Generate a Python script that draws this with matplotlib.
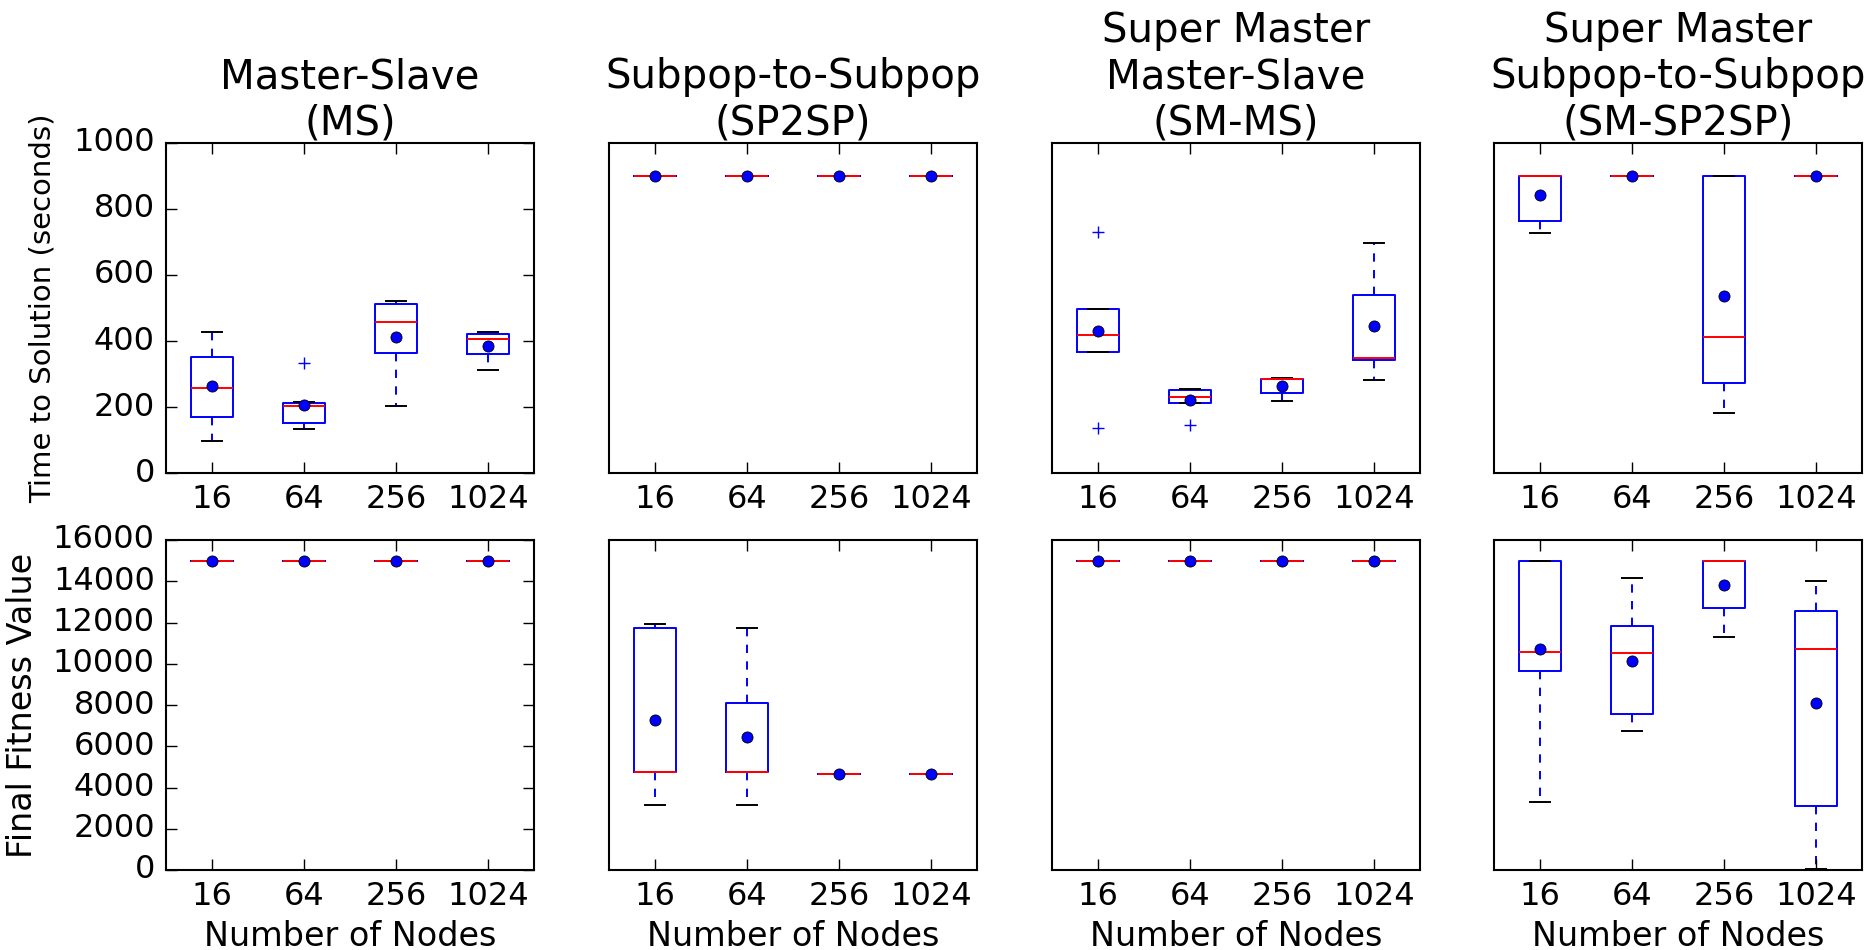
"""Boxplots of time to solution and final fitness for four parallel GA models."""
import matplotlib
matplotlib.use("Agg")
import matplotlib.pyplot as plt

plt.style.use("classic")
plt.rcParams.update({
    "figure.facecolor": "white",
    "savefig.facecolor": "white",
    "font.family": ["DejaVu Sans"],
})

nodes = ["16", "64", "256", "1024"]
titles = ["Master-Slave\n(MS)", "Subpop-to-Subpop\n(SP2SP)",
          "Super Master\nMaster-Slave\n(SM-MS)", "Super Master\nSubpop-to-Subpop\n(SM-SP2SP)"]

# each row: low whisker, q1, median, q3, high whisker, mean
ms_time = [[98, 171, 259, 353, 428, 263],
           [132, 152, 203, 213, 215, 206],
           [203, 365, 458, 513, 522, 413],
           [311, 360, 405, 422, 427, 385]]
sp2sp_time = [[900, 900, 900, 900, 900, 900]] * 4
smms_time = [[368, 368, 418, 496, 496, 430],
             [213, 213, 231, 253, 256, 220],
             [218, 243, 284, 284, 289, 265],
             [282, 342, 349, 539, 696, 444]]
smsp2sp_time = [[726, 763, 900, 900, 900, 842],
                [900, 900, 900, 900, 900, 900],
                [182, 273, 413, 900, 900, 535],
                [900, 900, 900, 900, 900, 900]]

ms_fit = [[15000, 15000, 15000, 15000, 15000, 15000]] * 4
sp2sp_fit = [[3150, 4750, 4750, 11720, 11910, 7270],
             [3150, 4750, 4750, 8080, 11720, 6460],
             [4670, 4670, 4670, 4670, 4670, 4670],
             [4670, 4670, 4670, 4670, 4670, 4670]]
smms_fit = [[15000, 15000, 15000, 15000, 15000, 15000]] * 4
smsp2sp_fit = [[3280, 9650, 10570, 15000, 15000, 10730],
               [6740, 7550, 10500, 11830, 14160, 10120],
               [11310, 12700, 15000, 15000, 15000, 13830],
               [30, 3100, 10730, 12570, 14010, 8080]]

# outliers drawn as '+'
ms_time_fliers = [[], [334], [], []]
smms_time_fliers = [[729, 135], [144], [], []]
no_fliers = [[], [], [], []]

time_data = [(ms_time, ms_time_fliers), (sp2sp_time, no_fliers),
             (smms_time, smms_time_fliers), (smsp2sp_time, no_fliers)]
fit_data = [(ms_fit, no_fliers), (sp2sp_fit, no_fliers),
            (smms_fit, no_fliers), (smsp2sp_fit, no_fliers)]


def make_stats(rows, fliers):
    stats = []
    for r, f in zip(rows, fliers):
        stats.append(dict(whislo=r[0], q1=r[1], med=r[2], q3=r[3],
                          whishi=r[4], mean=r[5], fliers=f))
    return stats


def draw(ax, rows, fliers):
    ax.bxp(make_stats(rows, fliers), positions=[1, 2, 3, 4], widths=0.45,
           showmeans=True,
           boxprops=dict(color="b", linewidth=1.4),
           whiskerprops=dict(color="b", linestyle="--", linewidth=1.4),
           capprops=dict(color="k", linewidth=1.4),
           medianprops=dict(color="r", linewidth=1.4),
           flierprops=dict(marker="+", markeredgecolor="b", markersize=8,
                           linestyle="none"),
           meanprops=dict(marker="o", markerfacecolor="b", markeredgecolor="k",
                          markeredgewidth=0.6, markersize=8))
    ax.set_xlim(0.5, 4.5)
    ax.set_xticks([1, 2, 3, 4])
    ax.set_xticklabels(nodes)
    ax.tick_params(direction="in", length=8, width=1, labelsize=23,
                   top=True, right=True, pad=8)
    for s in ax.spines.values():
        s.set_linewidth(1.5)


W, H = 1876.0, 950.0
lefts = [166, 609, 1052, 1494]
fig = plt.figure(figsize=(W / 100, H / 100), dpi=100)

for i in range(4):
    ax = fig.add_axes([lefts[i] / W, (H - 473) / H, 368 / W, 330 / H])
    draw(ax, *time_data[i])
    ax.set_ylim(0, 1000)
    ax.set_title(titles[i], fontsize=29, pad=6, linespacing=1.2)
    if i == 0:
        ax.set_yticks(range(0, 1001, 200))
        ax.set_ylabel("Time to Solution (seconds)", fontsize=21, labelpad=12)
    else:
        ax.set_yticks([])

    ax = fig.add_axes([lefts[i] / W, (H - 870) / H, 368 / W, 330 / H])
    draw(ax, *fit_data[i])
    ax.set_ylim(0, 16000)
    ax.set_xlabel("Number of Nodes", fontsize=24, labelpad=6)
    if i == 0:
        ax.set_yticks(range(0, 16001, 2000))
        ax.set_ylabel("Final Fitness Value", fontsize=24, labelpad=10)
    else:
        ax.set_yticks([])

fig.savefig("out.png", dpi=100)
